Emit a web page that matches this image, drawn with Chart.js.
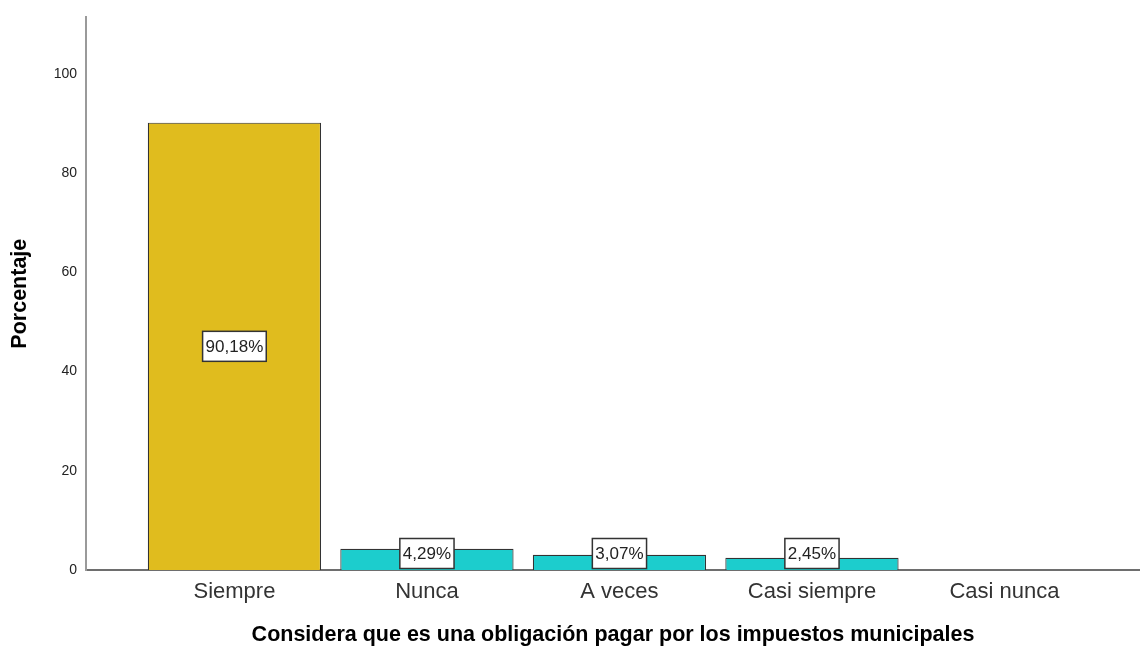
<!DOCTYPE html>
<html lang="es">
<head>
    <meta charset="UTF-8">
    <title>Obligación de pagar impuestos municipales</title>
    <style>
        body {
            margin: 0;
            padding: 0;
            background-color: #ffffff;
        }
        #grafico {
            display: block;
        }
    </style>
</head>
<body>
    <canvas id="grafico" width="1140" height="648"></canvas>

    <script src="https://cdn.jsdelivr.net/npm/chart.js"></script>
    <script>
        // Datos del gráfico
        const categorias = ['Siempre', 'Nunca', 'A veces', 'Casi siempre', 'Casi nunca'];
        const porcentajes = [90.18, 4.29, 3.07, 2.45, 0];
        const etiquetas = ['90,18%', '4,29%', '3,07%', '2,45%', ''];
        const colores = ['#E0BC1E', '#1CCDCD', '#1CCDCD', '#1CCDCD', '#1CCDCD'];
        const ticksY = [0, 20, 40, 60, 80, 100];

        const fuente = "Arial, 'Liberation Sans', sans-serif";

        // Etiquetas en caja blanca sobre cada barra
        const etiquetasPlugin = {
            id: 'etiquetas',
            afterDatasetsDraw(chart) {
                const ctx = chart.ctx;
                const meta = chart.getDatasetMeta(0);
                ctx.save();
                ctx.font = '17px ' + fuente;
                ctx.textAlign = 'center';
                ctx.textBaseline = 'middle';
                meta.data.forEach((bar, i) => {
                    if (!etiquetas[i]) return;
                    const y = Math.min((bar.y + bar.base) / 2, bar.base - 16.5);
                    const w = ctx.measureText(etiquetas[i]).width + 6;
                    const h = 30;
                    ctx.fillStyle = '#ffffff';
                    ctx.fillRect(bar.x - w / 2, y - h / 2, w, h);
                    ctx.strokeStyle = '#333333';
                    ctx.lineWidth = 1.5;
                    ctx.strokeRect(bar.x - w / 2, y - h / 2, w, h);
                    ctx.fillStyle = '#222222';
                    ctx.fillText(etiquetas[i], bar.x, y + 1);
                });
                ctx.restore();
            }
        };

        const ctx = document.getElementById('grafico').getContext('2d');
        new Chart(ctx, {
            type: 'bar',
            data: {
                datasets: [{
                    data: porcentajes.map((v, i) => ({ x: i, y: v })),
                    backgroundColor: colores,
                    borderColor: '#333333',
                    borderWidth: 1.2,
                    categoryPercentage: 1,
                    barPercentage: 0.9
                }]
            },
            options: {
                responsive: false,
                animation: false,
                layout: { padding: { top: 15, left: 0, right: 0, bottom: 0 } },
                plugins: {
                    legend: { display: false },
                    tooltip: { enabled: false }
                },
                scales: {
                    x: {
                        type: 'linear',
                        offset: false,
                        min: -0.771,
                        max: 4.704,
                        afterBuildTicks: (scale) => {
                            scale.ticks = categorias.map((c, i) => ({ value: i }));
                        },
                        afterFit: (scale) => { scale.height = 78; },
                        grid: { display: false, drawTicks: false },
                        border: { display: true, color: '#6e6e6e', width: 2 },
                        ticks: {
                            padding: 9,
                            autoSkip: false,
                            maxRotation: 0,
                            color: '#333333',
                            font: { family: fuente, size: 22 },
                            callback: (v) => categorias[v]
                        },
                        title: {
                            display: true,
                            text: 'Considera que es una obligación pagar por los impuestos municipales',
                            color: '#000000',
                            font: { family: fuente, size: 21.5, weight: 'bold' },
                            padding: { top: 0, bottom: 0 }
                        }
                    },
                    y: {
                        min: 0,
                        max: 111.4,
                        afterBuildTicks: (scale) => {
                            scale.ticks = ticksY.map(v => ({ value: v }));
                        },
                        afterFit: (scale) => { scale.width = 86; },
                        grid: { display: false, drawTicks: false },
                        border: { display: true, color: '#9a9a9a', width: 2 },
                        ticks: {
                            padding: 9,
                            color: '#222222',
                            font: { family: fuente, size: 14 }
                        },
                        title: {
                            display: true,
                            text: 'Porcentaje',
                            color: '#000000',
                            font: { family: fuente, size: 21.5, weight: 'bold' },
                            padding: { top: 7, bottom: 0 }
                        }
                    }
                }
            },
            plugins: [etiquetasPlugin]
        });
    </script>
</body>
</html>
